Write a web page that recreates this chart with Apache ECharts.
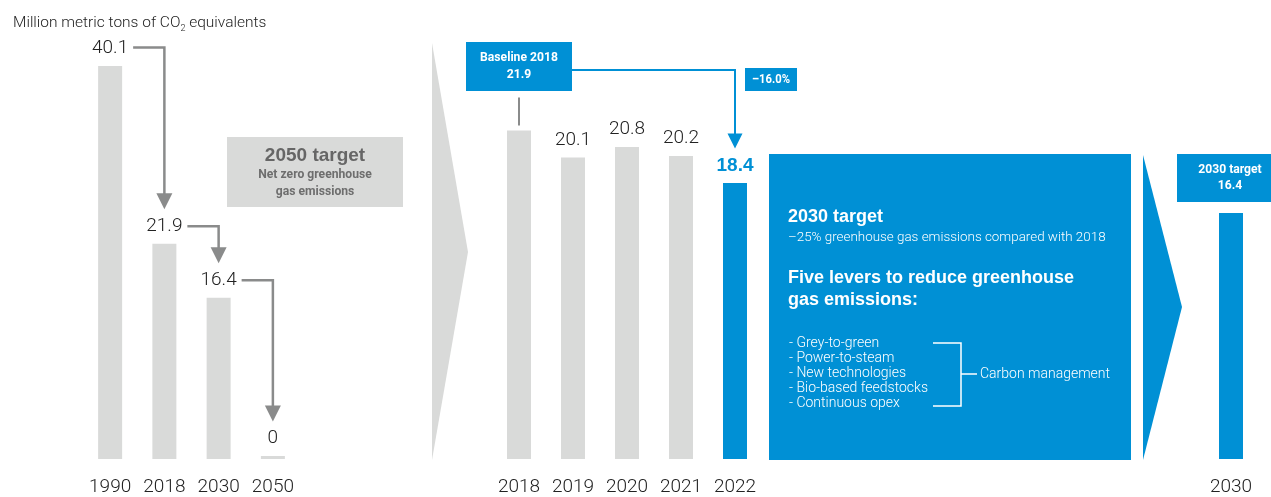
<!DOCTYPE html>
<html>
<head>
<meta charset="utf-8">
<script src="https://cdn.jsdelivr.net/npm/echarts@6/dist/echarts.min.js"></script>
<style>
  html, body { margin: 0; padding: 0; background: #fff; }
  #main { width: 1271px; height: 497px; }
</style>
</head>
<body>
<div id="main"></div>
<script>
var leftYears = ['1990', '2018', '2030', '2050'];
var leftValues = [40.1, 21.9, 16.4, 0];
var recentYears = ['2018', '2019', '2020', '2021', '2022'];
var recentValues = [21.9, 20.1, 20.8, 20.2, 18.4];
var targetYears = ['2030'];
var targetValues = [16.4];
var baselineValue = 21.9;
var reductionText = '–16.0%';
var levers = ['Grey-to-green', 'Power-to-steam', 'New technologies', 'Bio-based feedstocks', 'Continuous opex'];

var grey = '#d9dad9';
var blue = '#0090d5';
var arrowGrey = '#8a8b8b';
var font = 'Roboto, "Liberation Sans", sans-serif';
var heavy = '"Liberation Sans", Arial, sans-serif';

var chart = echarts.init(document.getElementById('main'));

function catAxis(idx, data) {
  return {
    type: 'category',
    gridIndex: idx,
    data: data,
    axisLine: { show: false },
    axisTick: { show: false },
    axisLabel: { interval: 0, fontSize: 19, color: '#222', fontFamily: font, fontWeight: 300, margin: 19 }
  };
}
function valAxis(idx, max) {
  return { type: 'value', gridIndex: idx, min: 0, max: max, show: false };
}

var recentData = recentValues.map(function (v, i) {
  var item = { value: v };
  if (i === 0) item.label = { show: false };
  if (i === recentValues.length - 1) {
    item.itemStyle = { color: blue };
    item.label = { color: blue, fontWeight: 'bold', fontFamily: heavy };
  }
  return item;
});

var option = {
  animation: false,
  backgroundColor: '#fff',
  title: {
    text: 'Million metric tons of CO{sub|2} equivalents',
    left: 8,
    top: 9,
    textStyle: {
      fontSize: 15.5, fontWeight: 300, color: '#222', fontFamily: font, lineHeight: 18,
      rich: { sub: { fontSize: 9, fontFamily: font, fontWeight: 300, color: '#222', verticalAlign: 'bottom', lineHeight: 18, padding: [0, 0, -1, 0] } }
    }
  },
  grid: [
    { left: 83, width: 217, top: 66, bottom: 37 },
    { left: 492, width: 270, top: 84, bottom: 37 },
    { left: 1204, width: 54, top: 84, bottom: 37 }
  ],
  xAxis: [catAxis(0, leftYears), catAxis(1, recentYears), catAxis(2, targetYears)],
  yAxis: [valAxis(0, 40), valAxis(1, 25), valAxis(2, 25)],
  series: [
    {
      type: 'bar', xAxisIndex: 0, yAxisIndex: 0, data: leftValues,
      barWidth: 24, barMinHeight: 3, itemStyle: { color: grey },
      label: { show: true, position: 'top', distance: 8, fontSize: 19, color: '#222', fontFamily: font, fontWeight: 300 }
    },
    {
      type: 'bar', xAxisIndex: 1, yAxisIndex: 1, data: recentData,
      barWidth: 24, itemStyle: { color: grey },
      label: { show: true, position: 'top', distance: 8, fontSize: 19, color: '#222', fontFamily: font, fontWeight: 300 }
    },
    {
      type: 'bar', xAxisIndex: 2, yAxisIndex: 2, data: targetValues,
      barWidth: 24, itemStyle: { color: blue }, label: { show: false }
    }
  ]
};
chart.setOption(option);

function toPx(i, cat, v) {
  return chart.convertToPixel({ xAxisIndex: i, yAxisIndex: i }, [cat, v]);
}
function txt(text, x, y, size, color, weight, family, align, sx) {
  return {
    type: 'text', silent: true, z: 20,
    x: x, y: y, scaleX: sx || 1,
    style: {
      text: text, x: 0, y: 0, fill: color,
      font: (weight || 'normal') + ' ' + size + 'px ' + (family || font),
      align: align || 'left', verticalAlign: 'middle',
      textAlign: align || 'left', textVerticalAlign: 'middle'
    }
  };
}
function line(points, color, width) {
  return { type: 'polyline', silent: true, z: 15, shape: { points: points }, style: { stroke: color, lineWidth: width, fill: null } };
}
function poly(points, color, z) {
  return { type: 'polygon', silent: true, z: z || 15, shape: { points: points }, style: { fill: color } };
}

var g = [];

// big chevrons between the panels
g.push(poly([[432, 43], [468, 252], [432, 460]], grey, 1));
g.push(poly([[1143, 155], [1182, 307], [1143, 460]], blue, 1));

// arrows between the long-term labels
var labelGap = 17.5;
var leftTops = leftValues.map(function (v, i) {
  var p = toPx(0, leftYears[i], v);
  return [p[0], p[1] - (v === 0 ? 3 : 0) - labelGap];
});
for (var i = 0; i < leftTops.length - 1; i++) {
  var a = leftTops[i], b = leftTops[i + 1];
  var tipY = b[1] - 17;
  g.push(line([[a[0] + 23, a[1]], [b[0], a[1]], [b[0], tipY - 14]], arrowGrey, 2.5));
  g.push(poly([[b[0] - 8, tipY - 16], [b[0] + 8, tipY - 16], [b[0], tipY]], arrowGrey));
}

// 2050 target box
g.push({ type: 'rect', silent: true, z: 5, shape: { x: 227, y: 137, width: 176, height: 70 }, style: { fill: grey } });
g.push(txt('2050 target', 315, 156, 19, '#666', 'bold', heavy, 'center'));
g.push(txt('Net zero greenhouse', 315, 175, 13.5, '#6e6e6e', 'bold', font, 'center', 0.9));
g.push(txt('gas emissions', 315, 192, 13.5, '#6e6e6e', 'bold', font, 'center', 0.9));

// baseline box and arrow to 2022
var base = toPx(1, recentYears[0], baselineValue);
var last = toPx(1, recentYears[recentYears.length - 1], recentValues[recentValues.length - 1]);
g.push(line([[base[0], base[1] - 33], [base[0], base[1] - 5]], arrowGrey, 2));
g.push({ type: 'rect', silent: true, z: 5, shape: { x: base[0] - 53, y: 42, width: 106, height: 49 }, style: { fill: blue } });
g.push(txt('Baseline ' + recentYears[0], base[0], 58, 13.5, '#fff', 'bold', font, 'center', 0.9));
g.push(txt(String(baselineValue), base[0], 75, 13.5, '#fff', 'bold', font, 'center', 0.9));
var tip2 = last[1] - labelGap - 17;
g.push(line([[base[0] + 53, 70], [last[0], 70], [last[0], tip2 - 13]], blue, 2));
g.push(poly([[last[0] - 7.5, tip2 - 15], [last[0] + 7.5, tip2 - 15], [last[0], tip2]], blue));
g.push({ type: 'rect', silent: true, z: 5, shape: { x: last[0] + 10, y: 68, width: 52, height: 23 }, style: { fill: blue } });
g.push(txt(reductionText, last[0] + 36, 80, 12.5, '#fff', 'bold', font, 'center', 0.9));

// 2030 target panel
g.push({ type: 'rect', silent: true, z: 5, shape: { x: 769, y: 154, width: 362, height: 306 }, style: { fill: blue } });
g.push(txt('2030 target', 788, 217, 18, '#fff', 'bold', heavy));
g.push(txt('–25% greenhouse gas emissions compared with 2018', 788, 238, 13.4, '#fff', '300'));
g.push(txt('Five levers to reduce greenhouse', 788, 278, 18, '#fff', 'bold', heavy));
g.push(txt('gas emissions:', 788, 300, 18, '#fff', 'bold', heavy));
levers.forEach(function (s, k) {
  g.push(txt('- ' + s, 789, 343 + 15 * k, 14, '#fff', '300'));
});
g.push(line([[933, 343], [961, 343], [961, 406], [933, 406]], '#fff', 1.5));
g.push(line([[961, 374], [977, 374]], '#fff', 1.5));
g.push(txt('Carbon management', 980, 374, 14, '#fff', '300'));

// 2030 target label box over the last bar
var t = toPx(2, targetYears[0], targetValues[0]);
g.push({ type: 'rect', silent: true, z: 5, shape: { x: t[0] - 54, y: t[1] - 59, width: 106, height: 48 }, style: { fill: blue } });
g.push(txt(targetYears[0] + ' target', t[0] - 1, t[1] - 43, 13.5, '#fff', 'bold', font, 'center', 0.9));
g.push(txt(String(targetValues[0]), t[0] - 1, t[1] - 27, 13.5, '#fff', 'bold', font, 'center', 0.9));

chart.setOption({ graphic: g });
</script>
</body>
</html>
